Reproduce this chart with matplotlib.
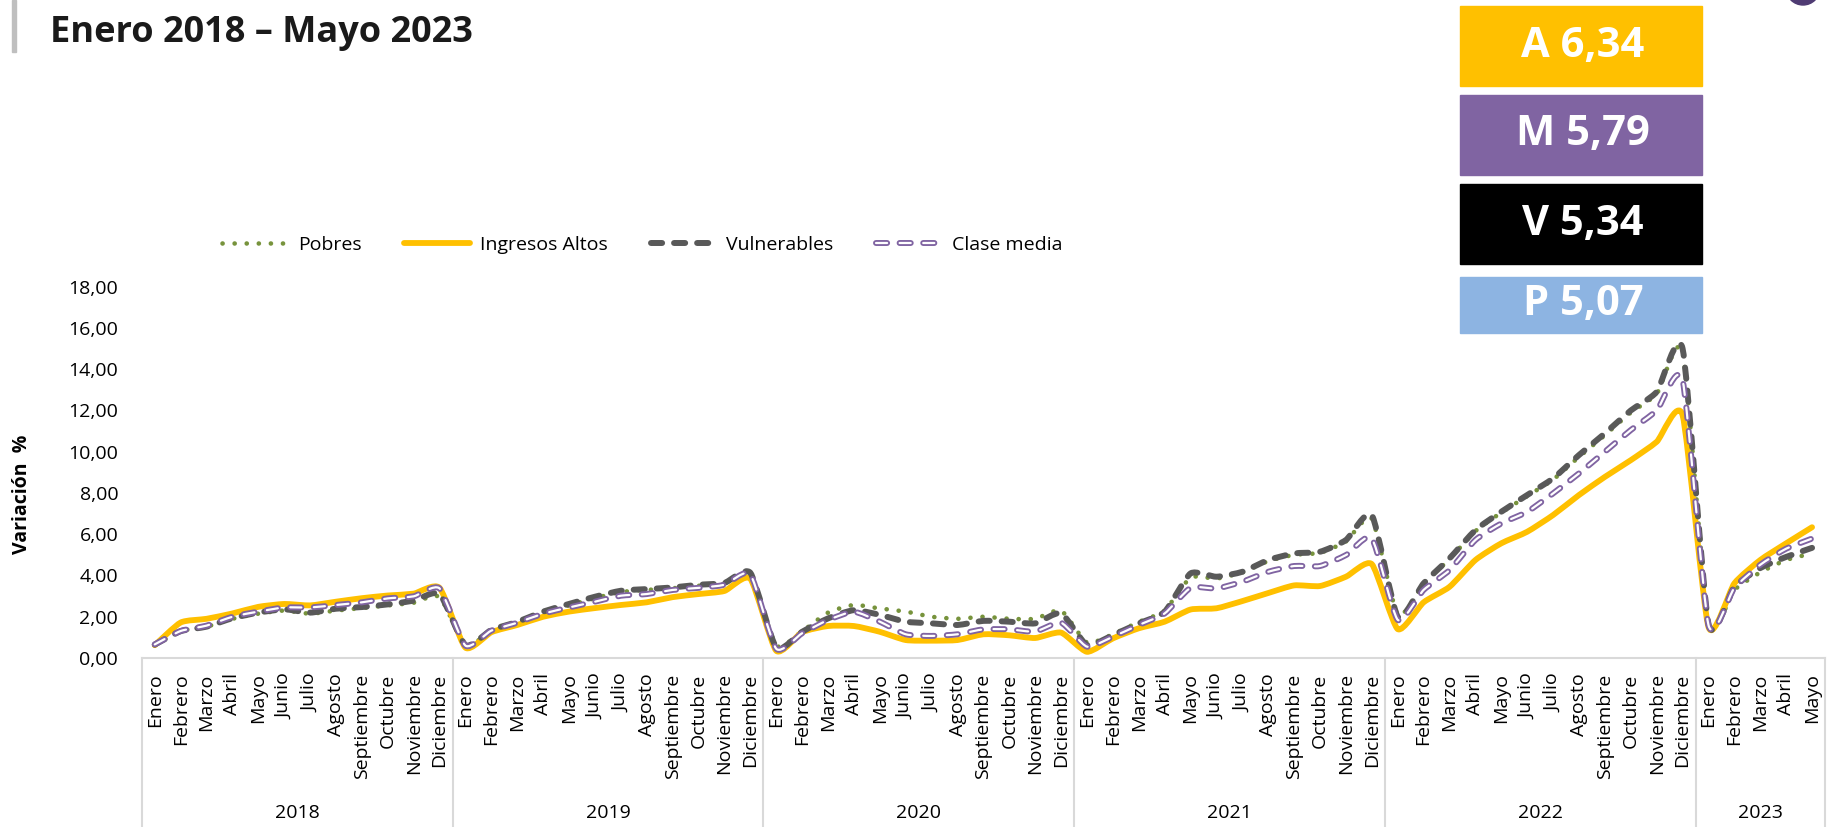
import numpy as np
import matplotlib.pyplot as plt
import matplotlib.patches as patches
import matplotlib.patheffects as pe
import matplotlib.transforms as mtransforms
from matplotlib.lines import Line2D
from matplotlib.path import Path

plt.rcParams['font.family'] = ['Open Sans', 'DejaVu Sans']
plt.rcParams['lines.scale_dashes'] = False

# categorias
meses = ['Enero', 'Febrero', 'Marzo', 'Abril', 'Mayo', 'Junio', 'Julio',
         'Agosto', 'Septiembre', 'Octubre', 'Noviembre', 'Diciembre']
anios = ['2018', '2019', '2020', '2021', '2022', '2023']
meses_por_anio = [12, 12, 12, 12, 12, 5]

# variacion % año corrido por grupo de ingreso
pobres = [0.62, 1.30, 1.52, 1.90, 2.15, 2.30, 2.15, 2.30, 2.42, 2.55, 2.68, 2.96,
          0.62, 1.30, 1.70, 2.20, 2.55, 2.90, 3.20, 3.30, 3.38, 3.50, 3.60, 4.05,
          0.60, 1.30, 2.20, 2.57, 2.40, 2.25, 2.00, 1.90, 2.00, 1.90, 1.90, 2.30,
          0.75, 1.15, 1.75, 2.30, 3.90, 3.85, 4.15, 4.70, 5.00, 5.10, 5.65, 6.75,
          2.10, 3.60, 4.80, 6.15, 7.05, 7.85, 8.65, 9.75, 10.80, 11.90, 12.80, 14.85,
          1.70, 3.30, 4.15, 4.75, 5.07]
ingresos_altos = [0.62, 1.72, 1.90, 2.16, 2.48, 2.62, 2.55, 2.73, 2.90, 3.03, 3.12, 3.40,
                  0.50, 1.25, 1.60, 2.00, 2.25, 2.42, 2.57, 2.70, 2.95, 3.10, 3.25, 3.84,
                  0.35, 1.25, 1.55, 1.55, 1.27, 0.87, 0.84, 0.87, 1.15, 1.10, 0.97, 1.23,
                  0.30, 0.95, 1.44, 1.76, 2.35, 2.41, 2.76, 3.15, 3.52, 3.49, 3.94, 4.55,
                  1.40, 2.70, 3.45, 4.75, 5.56, 6.12, 6.93, 7.90, 8.78, 9.59, 10.48, 11.77,
                  1.50, 3.62, 4.75, 5.56, 6.34]
vulnerables = [0.65, 1.30, 1.52, 1.93, 2.20, 2.36, 2.20, 2.39, 2.47, 2.60, 2.78, 3.10,
               0.62, 1.36, 1.75, 2.25, 2.62, 2.97, 3.26, 3.34, 3.42, 3.55, 3.64, 4.13,
               0.50, 1.27, 1.92, 2.32, 2.09, 1.76, 1.68, 1.60, 1.80, 1.76, 1.68, 2.17,
               0.63, 1.11, 1.68, 2.24, 4.10, 3.94, 4.18, 4.75, 5.07, 5.15, 5.72, 6.93,
               2.00, 3.62, 4.83, 6.20, 7.09, 7.90, 8.71, 9.84, 10.89, 12.00, 12.90, 15.00,
               1.65, 3.45, 4.36, 4.90, 5.34]
clase_media = [0.66, 1.31, 1.57, 2.00, 2.25, 2.45, 2.45, 2.57, 2.70, 2.89, 2.99, 3.37,
               0.60, 1.33, 1.71, 2.15, 2.45, 2.73, 3.02, 3.10, 3.30, 3.40, 3.55, 4.05,
               0.45, 1.20, 1.84, 2.24, 1.76, 1.15, 1.07, 1.15, 1.39, 1.39, 1.28, 1.71,
               0.55, 1.03, 1.60, 2.16, 3.40, 3.37, 3.70, 4.18, 4.46, 4.46, 4.99, 5.80,
               1.85, 3.30, 4.26, 5.72, 6.52, 7.09, 7.98, 8.95, 10.00, 11.05, 12.00, 13.47,
               1.60, 3.40, 4.52, 5.30, 5.79]

etiquetas_mes = []
for n in meses_por_anio:
    etiquetas_mes += meses[:n]
x = np.arange(len(etiquetas_mes))

verde = '#77933C'
amarillo = '#FFC000'
gris = '#595959'
morado = '#8064A2'
efecto_doble = [pe.Stroke(linewidth=4.3, foreground=morado),
                pe.Stroke(linewidth=1.6, foreground='white')]


def curva_suave(xs, ys, t=0.1):
    # linea suavizada tipo excel (bezier que pasa por cada punto)
    pts = np.column_stack([xs, ys]).astype(float)
    verts = [pts[0]]
    codes = [Path.MOVETO]
    for i in range(len(pts) - 1):
        p0 = pts[i - 1] if i > 0 else pts[i]
        p1 = pts[i]
        p2 = pts[i + 1]
        p3 = pts[i + 2] if i + 2 < len(pts) else pts[i + 1]
        verts += [p1 + (p2 - p0) * t, p2 - (p3 - p1) * t, p2]
        codes += [Path.CURVE4] * 3
    return Path(verts, codes)


W, H = 1829, 827
fig = plt.figure(figsize=(W / 100, H / 100), dpi=100)
ax = fig.add_axes([141.8 / W, 1 - 658 / H, (1825 - 141.8) / W, (658 - 286.7) / H])

series = [
    (pobres, 'Pobres', dict(color=verde, lw=3.3, linestyle=(0, (0.1, 8.6)))),
    (ingresos_altos, 'Ingresos Altos', dict(color=amarillo, lw=4.2, linestyle='-')),
    (vulnerables, 'Vulnerables', dict(color=gris, lw=4.3, linestyle=(0, (8, 8.6)))),
    (clase_media, 'Clase media', dict(color=morado, lw=4.3, linestyle=(0, (8, 9)),
                                      path_effects=efecto_doble)),
]

handles = []
for datos, nombre, estilo in series:
    pp = patches.PathPatch(curva_suave(x, datos), fill=False, edgecolor=estilo['color'],
                           linewidth=estilo['lw'], linestyle=estilo['linestyle'],
                           capstyle='round', joinstyle='round',
                           path_effects=estilo.get('path_effects', []))
    ax.add_patch(pp)
    handles.append(Line2D([], [], color=estilo['color'], lw=estilo['lw'],
                          linestyle=estilo['linestyle'], dash_capstyle='round',
                          solid_capstyle='round',
                          path_effects=estilo.get('path_effects', []), label=nombre))

# ejes
ax.set_xlim(-0.5, len(x) - 0.5)
ax.set_ylim(0, 18)
ax.set_yticks(np.arange(0, 19, 2))
ax.set_yticklabels([f'{v:.2f}'.replace('.', ',') for v in np.arange(0, 19, 2)])
ax.set_xticks(x)
ax.set_xticklabels(etiquetas_mes, rotation=90)
ax.tick_params(axis='y', length=0, pad=17, labelsize=14)
ax.tick_params(axis='x', length=0, pad=11, labelsize=14)
for s in ['top', 'right', 'left']:
    ax.spines[s].set_visible(False)
ax.spines['bottom'].set_color('#D9D9D9')
ax.spines['bottom'].set_linewidth(1.5)

# eje de categorias con años
trans = mtransforms.blended_transform_factory(ax.transData, fig.transFigure)
limites = [-0.5]
for n in meses_por_anio:
    limites.append(limites[-1] + n)
for b in limites:
    fig.add_artist(Line2D([b, b], [1 - 658 / H, 0], transform=trans,
                          color='#D9D9D9', lw=1.5))
for i, anio in enumerate(anios):
    centro = (limites[i] + limites[i + 1]) / 2
    ax.text(centro, 1 - 813 / H, anio, transform=trans, ha='center',
            va='center', fontsize=14)

fig.text(22 / W, 1 - 494 / H, 'Variación  %', rotation=90, fontweight='bold',
         fontsize=14, ha='center', va='center')

fig.legend(handles=handles, loc='center left', bbox_to_anchor=(222 / W, 1 - 245 / H),
           ncol=4, frameon=False, fontsize=14, handlelength=3.4, handletextpad=0.5,
           columnspacing=2.2, borderpad=0, borderaxespad=0)

# titulo
fig.text(50 / W, 1 - 42 / H, 'Enero 2018 – Mayo 2023', fontsize=26,
         fontweight='bold', va='baseline', color='#1a1a1a')
fig.add_artist(patches.Rectangle((12 / W, 1 - 52 / H), 4 / W, 52 / H,
                                 transform=fig.transFigure, color='#BFBFBF'))
fig.add_artist(patches.Ellipse((1803 / W, 1 + 12 / H), 34 / W, 34 / H,
                               transform=fig.transFigure, color='#4F3B73'))

# cajas con el ultimo dato
cajas = [('A', ingresos_altos[-1], amarillo, 6, 86),
         ('M', clase_media[-1], morado, 95, 175),
         ('V', vulnerables[-1], 'black', 184, 264),
         ('P', pobres[-1], '#8DB4E2', 277, 333)]
for letra, val, col, y0, y1 in cajas:
    fig.add_artist(patches.Rectangle((1460 / W, 1 - y1 / H), 242 / W, (y1 - y0) / H,
                                     transform=fig.transFigure, color=col))
    fig.text(1583 / W, 1 - (y0 + y1) / 2 / H, f'{letra} {val:.2f}'.replace('.', ','),
             color='white', fontsize=30, fontweight='bold', ha='center', va='center')

fig.savefig('out.png', dpi=100)
